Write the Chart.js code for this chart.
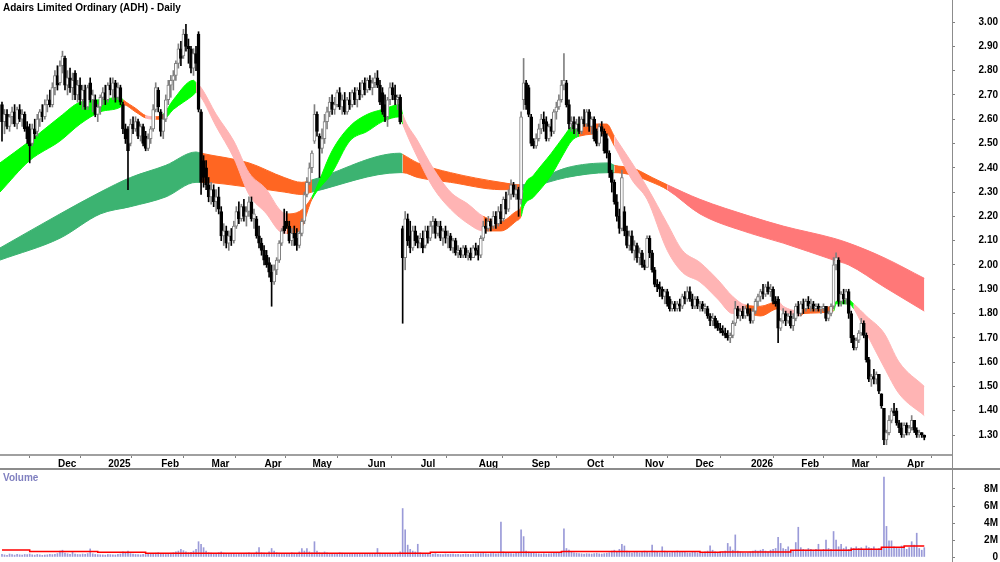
<!DOCTYPE html>
<html><head><meta charset="utf-8">
<script src="https://cdn.jsdelivr.net/npm/chart.js@4.4.1/dist/chart.umd.min.js"></script>
<style>
html,body{margin:0;padding:0;background:#fff;width:1000px;height:562px;overflow:hidden;}
canvas{position:absolute;left:0;}
#cp{top:0;}
#cv{top:470px;}
.txt{position:absolute;font-family:"Liberation Sans",Arial,sans-serif;font-weight:bold;font-size:10px;line-height:12px;white-space:nowrap;z-index:5;}
#title{left:3px;top:2px;color:#000;}
#vlabel{left:3px;top:472px;color:#8080c0;}
.hl{position:absolute;left:0;top:468px;width:1000px;height:2px;background:#8c8c8c;z-index:4;}
.vl{position:absolute;left:952px;top:0;width:1px;height:562px;background:#8c8c8c;z-index:4;}
</style></head>
<body>
<canvas id="cp" width="1000" height="470"></canvas>
<canvas id="cv" width="1000" height="92"></canvas>
<div class="hl"></div><div class="vl"></div>
<div id="title" class="txt">Adairs Limited Ordinary (ADH) - Daily</div>
<div id="vlabel" class="txt">Volume</div>
<script>
// ---- DATA (prices in cents, volume in thousands) ----
const monthLabels = ['Dec','2025','Feb','Mar','Apr','May','Jun','Jul','Aug','Sep','Oct','Nov','Dec','2026','Feb','Mar','Apr'];
const monthIdx = [21,41,62,82,103,122,144,165,188,209,231,254,274,296,316,336,358];
const priceTicks = [1.3,1.4,1.5,1.6,1.7,1.8,1.9,2.0,2.1,2.2,2.3,2.4,2.5,2.6,2.7,2.8,2.9,3.0];
const volTicks = [0,2000,4000,6000,8000];

const open = [
266,259,262,257,261,263,258,264,260,262, 257,256,250,256,255,260,263,261,266,268,
266,273,278,275,282,285,274,277,273,279, 270,274,268,272,265,275,268,268,262,265,
269,271,268,274,272,275,269,273,266,256, 256,250,258,256,259,253,257,253,248,252,
256,264,272,263,255,260,268,274,276,278, 283,289,286,295,290,289,281,287,295,263,
243,240,233,228,231,226,228,222,212,214, 209,212,210,216,222,219,224,220,222,226,
219,219,212,209,206,204,201,197,193,198, 202,209,216,218,216,210,213,211,208,213,
218,229,234,240,251,262,253,248,252,259, 263,267,264,266,271,265,268,263,268,266,
271,268,272,270,275,272,276,273,275,277, 274,271,266,261,268,273,270,268,269,215,
203,219,212,207,214,210,209,211,208,214, 211,216,218,213,216,211,214,211,212,207,
210,205,206,204,207,204,205,203,207,206, 204,211,216,215,218,216,220,217,222,219,
227,223,229,233,229,231,227,268,275,273, 261,251,249,252,256,260,259,252,257,255,
263,265,268,274,275,266,258,259,256,258, 255,260,258,263,257,260,255,250,257,255,
252,246,238,234,226,220,215,222,214,208, 212,206,208,203,205,200,199,211,205,198,
192,191,190,187,189,186,182,184,182,184, 183,187,186,189,186,183,186,183,184,182,
182,179,177,178,176,174,173,172,171,170, 171,176,182,179,181,179,182,180,177,181,
185,187,189,188,191,189,190,185,186,174, 177,180,177,179,175,178,183,180,184,182,
185,183,184,182,183,182,182,183,178,180, 183,200,202,185,188,186,189,180,170,166,
169,172,176,171,161,153,154,153,155,147, 141,128,131,136,140,140,135,133,130,134,
131,133,136,132,130,131,130];
const high = [
267,264,264,262,265,266,265,266,264,263, 259,258,258,260,262,264,266,268,270,272,
275,280,282,284,288,286,280,281,279,280, 276,277,274,274,274,277,272,270,266,270,
273,274,275,277,277,276,275,274,267,258, 257,260,261,261,260,258,258,255,254,257,
266,275,273,264,262,270,276,278,280,284, 291,292,297,299,293,290,289,290,296,264,
245,243,236,234,233,231,232,224,217,216, 214,215,218,224,226,225,227,224,228,228,
223,220,216,211,208,206,203,200,200,203, 210,215,223,222,218,215,216,215,214,219,
230,236,242,247,266,263,254,256,262,265, 269,270,269,272,273,270,271,269,271,272,
273,273,275,276,277,277,278,277,279,280, 276,273,270,269,275,275,274,270,270,216,
222,221,218,216,216,212,213,214,216,216, 218,220,219,218,218,215,216,214,213,211,
211,208,207,208,208,206,207,208,209,208, 212,218,219,220,219,222,222,224,225,228,
230,231,235,234,233,232,263,285,276,274, 262,252,254,258,262,263,261,258,260,264,
267,270,276,287,276,268,261,261,260,261, 261,264,264,264,261,261,256,258,259,256,
254,247,239,235,229,223,239,224,216,214, 214,210,209,207,206,202,212,212,206,199,
194,193,191,190,190,187,185,185,185,186, 188,189,191,191,188,187,187,185,185,184,
183,180,180,179,177,176,175,174,173,172, 177,185,183,182,183,183,184,182,182,186,
188,190,192,192,193,192,191,187,187,178, 182,181,180,181,180,184,185,185,186,186,
187,186,185,184,184,183,184,183,181,184, 203,205,203,189,190,190,190,181,171,170,
173,178,177,172,162,155,157,156,155,147, 141,132,138,141,143,141,136,135,135,135,
134,138,136,133,132,131,130];
const low = [
251,254,256,255,258,257,256,259,257,255, 250,242,249,252,253,257,259,260,263,265,
265,270,272,274,279,272,270,271,268,268, 267,266,264,264,264,267,263,261,259,262,
266,266,267,270,268,267,268,266,254,250, 231,249,254,255,252,251,249,247,247,250,
255,263,263,253,252,259,266,269,272,276, 281,282,285,288,283,279,278,280,263,229,
232,231,226,225,224,222,221,210,208,207, 206,208,209,215,217,218,218,216,220,218,
215,211,207,204,200,199,195,183,192,196, 201,208,213,215,209,208,208,206,207,212,
217,228,233,238,250,253,236,246,250,256, 261,262,262,265,264,262,262,262,264,265,
266,265,268,269,270,271,272,270,273,273, 266,262,259,257,266,268,266,264,258,176,
198,208,205,206,208,207,207,205,207,209, 210,213,211,212,210,208,209,207,206,205,
204,203,203,203,203,202,202,203,204,202, 203,210,213,214,214,215,215,216,217,218,
221,222,227,228,227,220,225,264,264,261, 249,248,248,251,254,255,251,251,253,254,
260,264,267,272,265,256,255,254,253,254, 254,257,257,255,254,251,249,249,253,246,
244,236,230,225,218,213,214,212,207,206, 205,202,201,200,199,198,199,203,197,191,
189,187,186,184,183,181,181,181,181,181, 182,184,185,185,182,182,182,181,181,180,
178,175,175,174,173,172,171,170,169,168, 170,175,178,177,178,178,179,176,176,180,
183,185,186,187,188,187,184,183,168,173, 176,175,176,174,173,177,179,179,180,181,
182,181,181,181,181,180,181,177,177,179, 182,198,183,183,184,184,178,168,165,165,
168,171,170,160,152,150,151,151,147,141, 126,126,130,135,138,134,131,129,129,130,
130,132,131,129,129,129,128];
const close = [
259,262,257,261,263,258,264,260,262,256, 252,249,256,254,260,263,261,266,268,266,
273,278,274,282,286,274,277,273,276,270, 274,268,272,265,273,268,270,262,265,269,
271,268,274,272,275,269,273,267,256,252, 247,258,256,259,253,257,250,248,252,256,
264,273,265,255,260,268,274,276,278,283, 289,285,295,290,289,281,287,283,264,234,
236,233,228,231,226,228,223,212,214,209, 212,210,216,222,219,224,220,222,226,219,
221,212,209,206,202,200,197,193,198,202, 209,214,214,216,210,213,211,208,213,218,
229,234,240,246,262,255,248,252,259,263, 267,264,266,271,265,268,263,268,266,271,
268,272,270,275,272,276,273,275,277,274, 267,263,261,268,273,270,268,269,259,203,
219,210,207,214,210,209,211,207,214,211, 216,218,213,216,211,214,211,212,207,210,
205,206,204,207,204,205,203,207,206,204, 211,216,215,218,216,220,217,222,219,227,
223,229,233,229,231,227,261,275,266,262, 250,249,252,256,260,258,252,257,255,263,
265,268,274,276,266,258,259,256,258,255, 260,258,263,257,260,252,250,257,255,247,
246,238,234,226,220,215,236,214,208,212, 206,208,203,205,200,199,211,205,198,192,
191,190,187,189,184,182,184,182,184,183, 187,186,189,186,183,186,183,184,182,183,
179,177,178,175,174,173,172,171,170,171, 176,182,179,181,179,182,180,177,181,185,
187,189,188,191,189,190,185,184,174,177, 180,177,179,175,178,183,180,184,182,185,
183,184,182,183,182,182,183,178,180,183, 200,203,185,188,186,189,180,170,166,169,
172,176,171,161,153,154,153,155,148,142, 128,131,136,140,139,135,133,130,134,131,
133,136,132,130,131,130,129];
const volume = [
300,250,200,350,280,220,300,260,240,300, 280,350,260,220,300,250,200,230,260,300,
280,320,400,700,800,450,380,300,600,350, 300,280,350,320,400,950,380,300,280,260,
250,220,300,280,260,240,300,350,600,500, 700,400,350,300,280,260,320,300,350,400,
380,450,500,400,350,300,380,450,500,600, 700,900,750,600,500,550,700,900,1800,1500,
1100,700,500,450,400,380,500,600,450,400, 350,400,380,300,350,400,380,450,500,420,
400,600,1100,500,450,400,600,1000,700,500, 450,400,380,350,400,500,450,420,600,1000,
700,1000,600,500,1800,700,500,450,600,500, 400,380,350,400,500,450,380,300,350,400,
380,350,400,300,380,350,300,400,350,1000, 450,400,350,380,400,350,300,380,600,5700,
3200,1400,900,700,600,1500,500,400,380,350, 300,350,400,320,300,280,350,300,330,350,
300,320,280,300,350,320,300,350,380,400, 400,450,380,350,400,420,380,400,4100,600,
500,450,400,380,450,500,3200,2400,700,600, 500,450,400,380,350,400,350,380,400,420,
450,500,600,3300,1000,800,600,500,450,400, 380,350,400,380,350,400,450,380,350,400,
450,500,700,800,600,900,1500,1300,700,600, 500,600,550,500,600,700,600,500,1400,700,
600,500,1200,700,600,500,550,600,700,650, 600,550,500,500,600,550,500,450,500,600,
700,1300,800,600,500,550,600,700,1600,1200, 800,2600,700,600,500,450,500,600,700,800,
700,800,900,700,600,800,900,1000,2300,1600, 1000,900,1200,800,700,1700,3500,1100,900,800,
1000,900,800,900,1500,800,900,2000,1000,900, 3000,2000,1200,1500,1000,1200,900,1100,1000,1200,
1000,1100,900,1300,1100,1000,1200,900,1000,1100, 9400,3600,1900,1900,1200,1100,1000,1300,1200,900,
1100,1800,1400,2800,1000,800,1100];
const volMaIdx = [0,11,38,57,170,222,277,285,313,337,349,358,366];
const volMaVal = [820,650,550,450,550,650,550,600,800,900,1150,1300,1300];

// short-term moving-average ribbon
const shortIdx = [-0.8,11,23,31,39,47,48,53,57,61,64,68,76,77,79,85,92,98,105,110,113,118,123,131,138,145,151,158,159,165,171,178,185,191,198,204,206,207,211,218,223,226,229,240,243,250,256,264,270,277,284,290,295,301,308,310,317,318,330,331,336,338,343,350,356,366];
const shortTop = [2.42,2.51,2.61,2.67,2.68,2.69,2.68,2.645,2.615,2.61,2.62,2.68,2.76,2.75,2.73,2.62,2.51,2.38,2.31,2.23,2.21,2.22,2.28,2.47,2.57,2.62,2.64,2.66,2.62,2.51,2.40,2.30,2.25,2.20,2.18,2.22,2.24,2.31,2.37,2.46,2.53,2.57,2.58,2.58,2.53,2.42,2.32,2.17,2.06,2.01,1.94,1.87,1.835,1.83,1.85,1.83,1.81,1.82,1.83,1.85,1.855,1.84,1.79,1.72,1.60,1.50];
const shortBot = [2.30,2.43,2.51,2.58,2.63,2.65,2.66,2.63,2.605,2.60,2.60,2.64,2.70,2.71,2.69,2.57,2.44,2.29,2.21,2.14,2.13,2.14,2.27,2.38,2.51,2.55,2.59,2.61,2.58,2.44,2.32,2.23,2.17,2.14,2.14,2.18,2.20,2.24,2.28,2.37,2.46,2.51,2.53,2.54,2.49,2.35,2.27,2.06,1.97,1.93,1.86,1.80,1.80,1.79,1.82,1.81,1.79,1.80,1.81,1.84,1.84,1.82,1.72,1.58,1.47,1.38];
const shortState = ['G','G','G','G','G','G','O','O','P','O','G','G','G','P','P','P','P','P','P','P','O','O','G','G','G','G','G','G','P','P','P','P','P','O','O','O','G','G','G','G','G','G','O','O','P','P','P','P','P','P','P','P','O','O','P','P','O','O','G','G','G','P','P','P','P','P'];
// long-term moving-average ribbon
const longIdx = [-0.8,23,39,51,65,77,79,98,112,119,123,158,159,165,178,198,206,210,224,241,243,250,258,264,277,297,310,330,336,350,366];
const longTop = [2.07,2.21,2.30,2.36,2.41,2.465,2.46,2.42,2.36,2.34,2.35,2.46,2.455,2.42,2.38,2.34,2.33,2.34,2.40,2.42,2.41,2.40,2.36,2.33,2.27,2.20,2.16,2.11,2.09,2.03,1.945];
const longBot = [2.02,2.11,2.21,2.24,2.28,2.34,2.34,2.32,2.30,2.29,2.30,2.38,2.38,2.36,2.34,2.31,2.31,2.32,2.36,2.38,2.38,2.37,2.34,2.31,2.21,2.13,2.09,2.02,2.00,1.91,1.81];
const longState = ['G','G','G','G','G','G','O','O','O','O','G','G','O','O','O','O','G','G','G','G','O','O','O','R','R','R','R','R','R','R','R'];

// ---- RENDER ----
const FONT = '"Liberation Sans", Arial, sans-serif';
Chart.defaults.font.family = FONT;
Chart.defaults.font.size = 10;
Chart.defaults.font.weight = 'bold';
Chart.defaults.color = '#000';

const X_MIN = -0.79, X_MAX = 377;
const shortPal = {G:'#00ff00', P:'#ffb4b4', O:'#ff6622'};
const longPal = {G:'#3cb371', O:'#ff6622', R:'#ff7878'};
const N = close.length;
const ids = Array.from({length:N}, (_, i) => i);
const isUp = i => close[i] >= open[i];

function ribbon(idxA, topA, botA, stA, pal, order) {
  const col = c => pal[stA[c.p0DataIndex]];
  return [
    {type:'line', data: idxA.map((x,k)=>({x, y: topA[k]})), fill:'+1', borderWidth:1, pointRadius:0,
     cubicInterpolationMode:'monotone', backgroundColor: pal.G, borderColor: pal.G,
     segment:{backgroundColor: col, borderColor: col}, order},
    {type:'line', data: idxA.map((x,k)=>({x, y: botA[k]})), fill:false, borderWidth:1, pointRadius:0,
     cubicInterpolationMode:'monotone', borderColor: pal.G, segment:{borderColor: col}, order}
  ];
}

const xScale = (display) => ({
  type:'linear', min:X_MIN, max:X_MAX, offset:false, display,
  grid:{drawOnChartArea:false, drawTicks:true, tickLength:3, color:'#808080'},
  border:{display:true, color:'#a0a0a0', width:2},
  ticks:{autoSkip:false, maxRotation:0, minRotation:0, align:'start', labelOffset:3, padding:0,
         font:{family:FONT, size:10, weight:'bold'}, color:'#000',
         callback:(v, k) => monthLabels[k]},
  afterBuildTicks: s => { s.ticks = monthIdx.map(v => ({value:v})); },
  afterFit: s => { s.height = display ? 15 : 0; s.paddingLeft = 0; s.paddingRight = 0; }
});

new Chart(document.getElementById('cp'), {
  type:'bar',
  data:{datasets:[
    ...ribbon(longIdx, longTop, longBot, longState, longPal, 30),
    ...ribbon(shortIdx, shortTop, shortBot, shortState, shortPal, 20),
    {type:'bar', data: ids.map(i => ({x:i, y:[low[i]/100, high[i]/100]})), grouped:false, barThickness:1,
     backgroundColor: c => isUp(c.dataIndex) ? '#808080' : '#000', borderWidth:0, order:2},
    {type:'bar', data: ids.map(i => ({x:i, y:[open[i]/100, close[i]/100]})), grouped:false, barThickness:3,
     minBarLength:1, borderSkipped:false, borderWidth:1,
     backgroundColor: c => isUp(c.dataIndex) ? '#ffffff' : '#000',
     borderColor: c => isUp(c.dataIndex) ? '#808080' : '#000', order:1}
  ]},
  options:{
    responsive:false, animation:false, devicePixelRatio:1,
    layout:{padding:{left:0, right:2, top:0, bottom:0}},
    plugins:{legend:{display:false}, tooltip:{enabled:false}},
    scales:{
      x: xScale(true),
      y:{type:'linear', position:'right', min:1.2177, max:3.0906,
         grid:{drawOnChartArea:false, tickLength:3, color:'#808080'},
         border:{display:false},
         ticks:{crossAlign:'far', font:{family:FONT, size:10, weight:'bold'}, color:'#000',
                callback: v => v.toFixed(2)},
         afterBuildTicks: s => { s.ticks = priceTicks.map(v => ({value:v})); },
         afterFit: s => { s.width = 46; s.paddingTop = 0; s.paddingBottom = 0; }
      }
    }
  }
});

new Chart(document.getElementById('cv'), {
  type:'bar',
  data:{datasets:[
    {type:'line', data: volMaIdx.map((x,k)=>({x, y: volMaVal[k]})), stepped:true, borderColor:'#ff0000',
     borderWidth:1.5, pointRadius:0, fill:false, order:0},
    {type:'bar', data: ids.map(i => ({x:i, y: volume[i]})), grouped:false, barThickness:1,
     backgroundColor:'#9a9ad8', borderWidth:0, order:1}
  ]},
  options:{
    responsive:false, animation:false, devicePixelRatio:1,
    layout:{padding:{left:0, right:2, top:2, bottom:5}},
    plugins:{legend:{display:false}, tooltip:{enabled:false}},
    scales:{
      x: xScale(false),
      y:{type:'linear', position:'right', min:0, max:10000,
         grid:{drawOnChartArea:false, tickLength:3, color:'#808080'},
         border:{display:false},
         ticks:{crossAlign:'far', font:{family:FONT, size:10, weight:'bold'}, color:'#000',
                callback: v => v === 0 ? '0' : (v/1000) + 'M'},
         afterBuildTicks: s => { s.ticks = volTicks.map(v => ({value:v})); },
         afterFit: s => { s.width = 46; s.paddingTop = 0; s.paddingBottom = 0; }
      }
    }
  }
});
</script>
</body></html>
